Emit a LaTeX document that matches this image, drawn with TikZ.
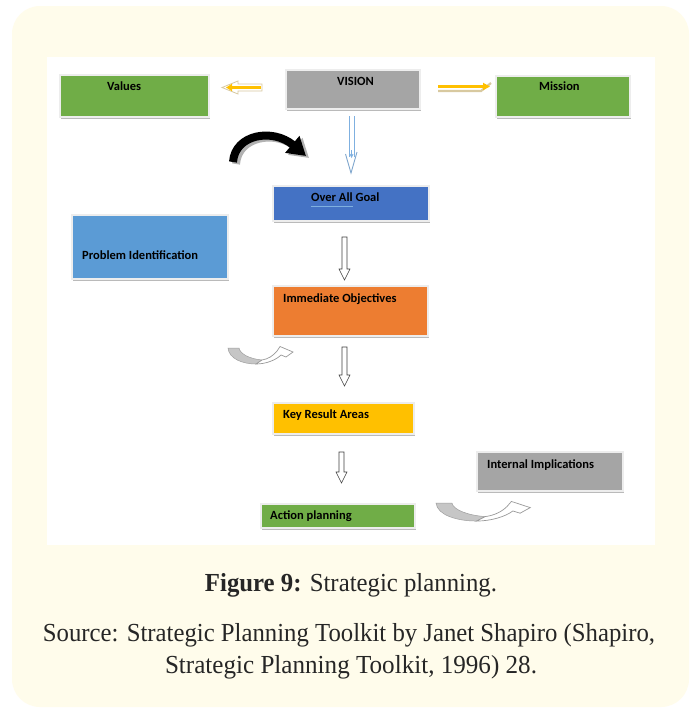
\documentclass[tikz,border=0pt]{standalone}
\usepackage{fontspec}
\usepackage{graphicx}
\usetikzlibrary{shadows,arrows.meta,calc}
\setmainfont{Liberation Serif}
\newfontfamily\boxfont{Carlito}
\definecolor{cream}{HTML}{FFFCEB}
\definecolor{cgreen}{HTML}{70AD47}
\definecolor{cgray}{HTML}{A5A5A5}
\definecolor{cblue}{HTML}{4472C4}
\definecolor{clblue}{HTML}{5B9BD5}
\definecolor{corange}{HTML}{ED7D31}
\definecolor{cyellow}{HTML}{FFC000}
\definecolor{ctan}{HTML}{D8C9A0}
\definecolor{vblue}{HTML}{7FB0E0}
\definecolor{txt}{HTML}{262626}
\newcommand\hollowdown[3]{%
  \draw[hollow] ({#1-2.5},#2) -- ({#1-2.5},{#3-11}) -- ({#1-5.5},{#3-11}) -- (#1,#3)
    -- ({#1+5.5},{#3-11}) -- ({#1+2.5},{#3-11}) -- ({#1+2.5},#2) -- cycle;}
\begin{document}
\begin{tikzpicture}[x=1pt,y=-1pt,
  box/.style={draw=black!7, line width=2.4pt, inner sep=0,
    drop shadow={shadow xshift=1.4pt, shadow yshift=-1.6pt, fill=black!45, opacity=0.6}},
  lbl/.style={inner sep=0, anchor=mid west, text=black,
    font={\boxfont\bfseries\fontsize{12.5}{14}\selectfont}},
  hollow/.style={draw=black!75, fill=white, line width=0.6pt},
  captext/.style={inner sep=0, anchor=base, text=txt, font={\fontsize{26}{30}\selectfont}},
  uturn/.pic={
    \fill[gray!45, draw=gray!75, line width=0.5pt] (0,1) .. controls (1,12) and (15,17) .. (28,17)
       -- (34,13) .. controls (22,12) and (12,7) .. (11,1) -- cycle;
    \draw[gray!80, fill=white, line width=0.7pt] (28,17) .. controls (38,17) and (48,13) .. (53,8)
       -- (58,10) -- (65,5) -- (52,-0.5) -- (49,4) .. controls (45,9) and (40,12) .. (34,13) -- cycle;
  }]
\useasboundingbox (0,0) rectangle (690,712);
\fill[white] (0,0) rectangle (690,712);
\fill[cream, rounded corners=28pt] (12,6) rectangle (689,707);
\fill[white] (47,57) rectangle (655,545);

% boxes
\node[box, fill=cgreen, minimum width=149pt, minimum height=42pt] (values) at (134.5,96) {};
\node[box, fill=cgray, minimum width=134pt, minimum height=39pt] (vision) at (353,89.5) {};
\node[box, fill=cgreen, minimum width=134pt, minimum height=41pt] (mission) at (563,96.5) {};
\node[box, fill=cblue, minimum width=156pt, minimum height=35pt] (goal) at (351,203.5) {};
\node[box, fill=clblue, minimum width=156pt, minimum height=64pt] (problem) at (150,247) {};
\node[box, fill=corange, minimum width=155pt, minimum height=50pt] (immed) at (350.5,311) {};
\node[box, fill=cyellow, minimum width=141pt, minimum height=31pt] (kra) at (343.5,418.5) {};
\node[box, fill=cgray, minimum width=146pt, minimum height=39pt] (internal) at (550,471.5) {};
\node[box, fill=cgreen, minimum width=154pt, minimum height=24pt] (action) at (338,516) {};

% labels
\node[lbl] (tvalues) at (107,88) {Values};
\node[lbl] (tvision) at (337,83) {VISION};
\node[lbl] (tmission) at (539,88) {Mission};
\node[lbl] (tgoal) at (311,199) {Over All Goal};
\draw[vblue, line width=0.6pt] (311,206.5) -- (353,206.5);
\node[lbl] (tproblem) at (82,257) {Problem Identification};
\node[lbl] (timmed) at (283,300) {Immediate Objectives};
\node[lbl] (tkra) at (283,416) {Key Result Areas};
\node[lbl] (tinternal) at (487,466) {Internal Implications};
\node[lbl] (taction) at (270,517) {Action planning};

% yellow arrows
\draw[ctan, fill=white, line width=0.8pt] (262,84) -- (238,84) -- (238,81) -- (222,87.5) -- (238,94) -- (238,91) -- (262,91) -- cycle;
\draw[cyellow, line width=2.6pt, -{Triangle[length=6pt,width=7pt]}] (261,87.5) -- (226,87.5);
\draw[ctan, line width=2.2pt] (438,91) -- (481,91) -- (491,83);
\draw[cyellow, line width=2.6pt, -{Triangle[length=7pt,width=7pt]}] (438,86.5) -- (490,86.5);

% blue double arrow vision -> goal
\draw[vblue, line width=0.8pt] (349,116) -- (349,157);
\draw[vblue, line width=0.8pt] (354,116) -- (354,157);
\draw[vblue, line width=0.8pt, -{Straight Barb[length=3pt,width=3pt]}] (351.5,150) -- (351.5,158);
\draw[vblue!80!gray, line width=0.9pt] (345.5,154) -- (351,173) -- (357,152);

% black curved arrow
\draw[black!30, line width=8pt, -{Triangle[length=18pt,width=21pt]}] (236,164) .. controls (238,136) and (276,130) .. (309,158);
\draw[black, line width=8pt, -{Triangle[length=18pt,width=21pt]}] (233,162) .. controls (235,134) and (273,128) .. (306,156);

% hollow down arrows
\hollowdown{344.5}{237}{280}
\hollowdown{344.5}{347}{386}
\hollowdown{341.5}{452}{483}

% gray u-turn arrows
\pic at (228,347) {uturn};
\pic[xscale=1.45, yscale=1.12] at (436,502) {uturn};

% caption
\node[captext] (fig) at (351,591) {\resizebox{292pt}{\height}{\textbf{Figure 9:} Strategic planning.}};
\node[captext] (src1) at (349,641) {\resizebox{612pt}{\height}{Source: Strategic Planning Toolkit by Janet Shapiro (Shapiro,}};
\node[captext] (src2) at (351,673) {\resizebox{372pt}{\height}{Strategic Planning Toolkit, 1996) 28.}};
\end{tikzpicture}
\end{document}
